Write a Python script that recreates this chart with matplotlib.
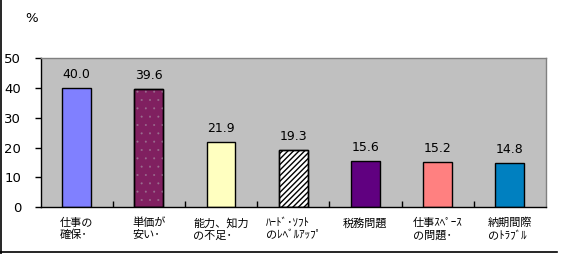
import matplotlib
matplotlib.use("Agg")
import matplotlib.pyplot as plt
from matplotlib.lines import Line2D

categories = ["仕事の\n確保･", "単価が\n安い･", "能力、知力\nの不足･", "ﾊｰﾄﾞ･ｿﾌﾄ\nのﾚﾍﾞﾙｱｯﾌﾟ",
              "税務問題", "仕事ｽﾍﾟｰｽ\nの問題･", "納期間際\nのﾄﾗﾌﾞﾙ"]
values = [40.0, 39.6, 21.9, 19.3, 15.6, 15.2, 14.8]
colors = ["#8080FF", "#802060", "#FFFFC0", "#FFFFFF", "#600080", "#FF8080", "#0080C0"]
hatches = [None, "..", None, "//////", None, None, None]
hatch_colors = [None, "#9A7090", None, "#000000", None, None, None]
hatch_lws = [None, 0.2, None, 1.0, None, None, None]
yticks = [0, 10, 20, 30, 40, 50]

plt.rcParams['font.family'] = ['DejaVu Sans']

fig = plt.figure(figsize=(5.61, 2.54), dpi=100)
ax = fig.add_axes([40.5/561, 1 - 207/254, (546 - 40.5)/561, (207 - 58.3)/254])
ax.set_facecolor("#C0C0C0")

x = list(range(len(values)))
ax.bar(x, values, width=0.4, color=colors, edgecolor="black", linewidth=1.0, zorder=2)
for i, (h, hc, hl) in enumerate(zip(hatches, hatch_colors, hatch_lws)):
    if h:
        with plt.rc_context({'hatch.linewidth': hl}):
            ax.bar([x[i]], [values[i]], width=0.4, fill=False, hatch=h, edgecolor=hc,
                   linewidth=0, zorder=3)
        ax.bar([x[i]], [values[i]], width=0.4, fill=False, edgecolor="black",
               linewidth=1.0, zorder=4)

for xi, v in zip(x, values):
    ax.annotate(f"{v:.1f}", (xi, v), xytext=(0, 5), textcoords="offset points",
                ha="center", va="bottom", fontsize=9)

ax.set_xlim(-0.5, len(values) - 0.5)
ax.set_ylim(0, 50)
ax.set_yticks(yticks)
ax.set_yticklabels([str(t) for t in yticks], fontsize=9.5)
ax.tick_params(axis="y", direction="out", length=4, width=1, pad=10)

ax.set_xticks([i + 0.5 for i in range(len(values) - 1)])
ax.set_xticklabels([])
ax.tick_params(axis="x", direction="in", length=4, width=1, color="black")

for xi, lab in zip(x, categories):
    ax.text(xi, -3.6, lab, ha="center", va="top", multialignment="left",
            fontsize=8, family=["Noto Sans CJK JP", "DejaVu Sans"],
            linespacing=1.25, transform=ax.transData)

ax.spines["left"].set_color("black")
ax.spines["bottom"].set_color("black")
ax.spines["top"].set_color("#808080")
ax.spines["right"].set_color("#808080")
for s in ax.spines.values():
    s.set_linewidth(1.0)

fig.text(32/561, 1 - 18/254, "%", ha="center", va="center", fontsize=9.5)

# outer frame
fig.add_artist(Line2D([0.5/561, 0.5/561], [0, 1], color="black", lw=1.2))
fig.add_artist(Line2D([0, 557/561], [1 - 251.5/254, 1 - 251.5/254], color="black", lw=1.2))

fig.savefig("out.png", dpi=100)
